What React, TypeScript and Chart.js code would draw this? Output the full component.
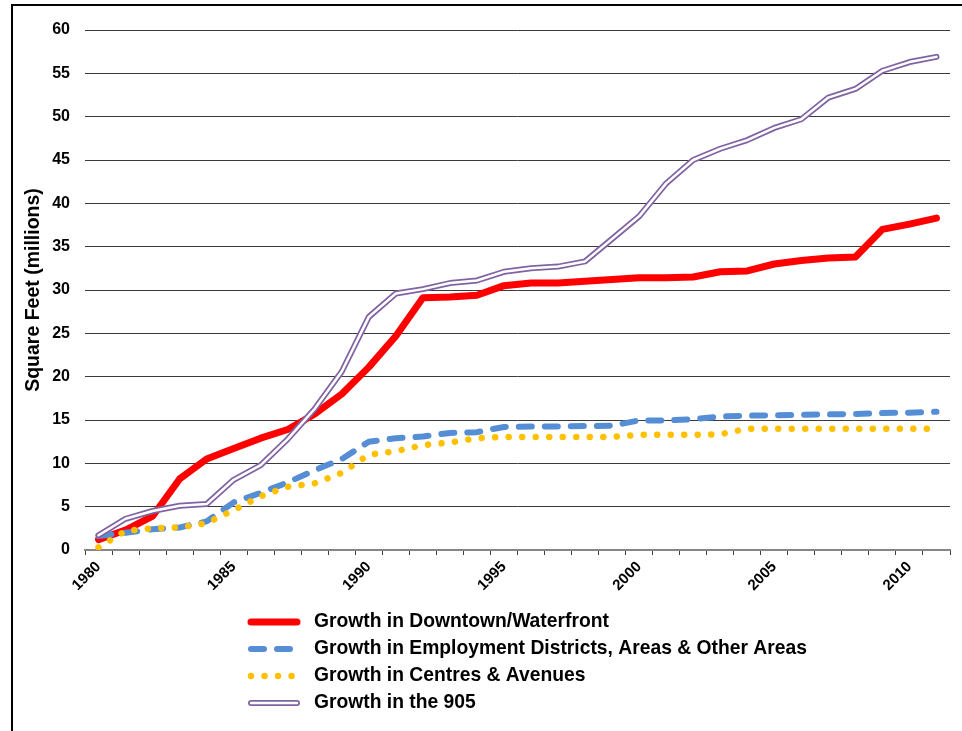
import React, { useEffect, useRef } from 'react';
import { Chart, registerables } from 'chart.js';

Chart.register(...registerables);

const years = ['1980', '1981', '1982', '1983', '1984', '1985', '1986', '1987', '1988', '1989',
  '1990', '1991', '1992', '1993', '1994', '1995', '1996', '1997', '1998', '1999',
  '2000', '2001', '2002', '2003', '2004', '2005', '2006', '2007', '2008', '2009',
  '2010', '2011'];

const downtown = [1.2, 2.3, 3.9, 8.2, 10.5, 11.7, 12.9, 13.9, 15.7, 18.0,
  21.1, 24.7, 29.1, 29.2, 29.4, 30.5, 30.8, 30.8, 31.0, 31.2,
  31.4, 31.4, 31.5, 32.1, 32.2, 33.0, 33.4, 33.7, 33.8, 37.0,
  37.6, 38.3];

const employment = [1.6, 2.0, 2.4, 2.6, 3.3, 5.5, 6.6, 7.8, 9.2, 10.5,
  12.5, 12.9, 13.1, 13.5, 13.6, 14.2, 14.25, 14.25, 14.3, 14.35,
  14.95, 14.95, 15.1, 15.4, 15.5, 15.55, 15.6, 15.65, 15.7, 15.8,
  15.85, 15.95];

const centres = [0.3, 2.2, 2.5, 2.6, 3.1, 4.6, 6.2, 7.3, 7.7, 8.9,
  11.0, 11.4, 12.1, 12.4, 12.9, 13.05, 13.05, 13.05, 13.05, 13.05,
  13.3, 13.3, 13.3, 13.35, 14.0, 14.0, 14.0, 14.0, 14.0, 14.0,
  14.0, 14.0];

const the905 = [1.7, 3.6, 4.5, 5.1, 5.3, 8.1, 9.8, 12.8, 16.3, 20.6,
  26.9, 29.6, 30.1, 30.8, 31.1, 32.1, 32.5, 32.7, 33.3, 35.9,
  38.5, 42.3, 45.0, 46.3, 47.3, 48.7, 49.7, 52.2, 53.2, 55.3,
  56.3, 56.9];

const seriesLabels = [
  'Growth in Downtown/Waterfront',
  'Growth in Employment Districts, Areas & Other Areas',
  'Growth in Centres & Avenues',
  'Growth in the 905',
];

const yTitle = 'Square Feet (millions)';
const yMin = 0;
const yMax = 60;
const yStep = 5;
const labelEvery = 5;

const FONT = "'Liberation Sans', Arial, sans-serif";
const RED = '#FF0000';
const BLUE = '#558ED5';
const GOLD = '#FFC000';
const PURPLE = '#8064A2';

const framePlugin = {
  id: 'frame',
  beforeDraw(chart: any) {
    const ctx = chart.ctx;
    ctx.save();
    ctx.fillStyle = '#ffffff';
    ctx.fillRect(0, 0, chart.width, chart.height);
    ctx.strokeStyle = '#000000';
    ctx.lineWidth = 2;
    ctx.beginPath();
    ctx.moveTo(12, chart.height);
    ctx.lineTo(12, 5);
    ctx.lineTo(chart.width, 5);
    ctx.stroke();
    ctx.restore();
  },
};

const legendPlugin = {
  id: 'customLegend',
  afterDraw(chart: any) {
    const ctx = chart.ctx;
    const rows = [622, 649, 676, 703];
    const x0 = 251;
    const x1 = 297;
    const tx = 314;
    ctx.save();
    chart.data.datasets.forEach((ds: any, i: number) => {
      if (i > 3) return;
      const y = rows[i];
      ctx.lineCap = 'round';
      ctx.lineJoin = 'round';
      ctx.setLineDash(ds.borderDash || []);
      ctx.strokeStyle = ds.borderColor;
      ctx.lineWidth = ds.borderWidth;
      ctx.beginPath();
      ctx.moveTo(x0, y);
      ctx.lineTo(x1, y);
      ctx.stroke();
      if (i === 3) {
        ctx.setLineDash([]);
        ctx.strokeStyle = '#ffffff';
        ctx.lineWidth = 2.5;
        ctx.beginPath();
        ctx.moveTo(x0, y);
        ctx.lineTo(x1, y);
        ctx.stroke();
      }
      ctx.setLineDash([]);
      ctx.fillStyle = '#000000';
      ctx.font = `bold 19.3px ${FONT}`;
      ctx.textBaseline = 'middle';
      ctx.textAlign = 'left';
      ctx.fillText(ds.label, tx, y);
    });
    ctx.restore();
  },
};

export default function App() {
  const ref = useRef<HTMLCanvasElement>(null);

  useEffect(() => {
    const common = {
      pointRadius: 0,
      pointHoverRadius: 0,
      tension: 0,
      fill: false,
      borderCapStyle: 'round',
      borderJoinStyle: 'round',
    };
    const chart = new Chart(ref.current as HTMLCanvasElement, {
      type: 'line',
      data: {
        labels: years,
        datasets: [
          { ...common, label: seriesLabels[0], data: downtown, borderColor: RED, borderWidth: 7, order: 5 },
          { ...common, label: seriesLabels[1], data: employment, borderColor: BLUE, borderWidth: 6, borderDash: [13, 13], order: 4 },
          { ...common, label: seriesLabels[2], data: centres, borderColor: GOLD, borderWidth: 6.5, borderDash: [0.01, 13.5], order: 3 },
          { ...common, label: seriesLabels[3], data: the905, borderColor: PURPLE, borderWidth: 6, order: 2 },
          { ...common, label: '', data: the905, borderColor: '#FFFFFF', borderWidth: 2.5, order: 1 },
        ] as any,
      },
      options: {
        responsive: false,
        animation: false,
        events: [],
        layout: { padding: { left: 14, right: 12, top: 30, bottom: 131 } },
        plugins: {
          legend: { display: false },
          tooltip: { enabled: false },
        },
        scales: {
          x: {
            type: 'category',
            offset: true,
            grid: {
              offset: true,
              drawOnChartArea: false,
              drawTicks: true,
              tickLength: 5,
              color: '#404040',
              lineWidth: 1,
            },
            border: { display: true, color: '#868686', width: 2 },
            ticks: {
              autoSkip: false,
              maxRotation: 45,
              minRotation: 45,
              padding: 3,
              color: '#000000',
              font: { family: FONT, size: 15, weight: 'bold' },
              callback: (_v: any, i: number) => (Number(years[i]) % labelEvery === 0 ? years[i] : ''),
            },
            afterFit: (s: any) => { s.height = 50; },
          },
          y: {
            min: yMin,
            max: yMax,
            ticks: {
              stepSize: yStep,
              padding: 15,
              color: '#000000',
              font: { family: FONT, size: 16, weight: 'bold' },
            },
            grid: { color: '#3a3a3a', lineWidth: 1, drawTicks: false },
            border: { display: false },
            title: {
              display: true,
              text: yTitle,
              color: '#000000',
              font: { family: FONT, size: 19.5, weight: 'bold' },
              padding: { top: 8, bottom: 0 },
            },
            afterFit: (s: any) => { s.width = 71; },
          },
        },
      } as any,
      plugins: [framePlugin, legendPlugin],
    });
    return () => chart.destroy();
  }, []);

  return (
    <div style={{ position: 'absolute', left: 0, top: 0, width: 962, height: 731, background: '#ffffff' }}>
      <canvas ref={ref} width={962} height={731} style={{ display: 'block', width: 962, height: 731 }} />
    </div>
  );
}
